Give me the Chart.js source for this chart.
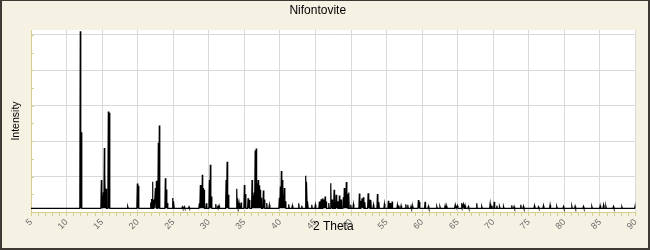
<!DOCTYPE html>
<html>
<head>
<meta charset="utf-8">
<script src="https://cdn.jsdelivr.net/npm/chart.js@4.4.1/dist/chart.umd.min.js"></script>
<style>
  html, body { margin: 0; padding: 0; background: #f5f2e4; }
</style>
</head>
<body>
<canvas id="xrd" width="650" height="250"></canvas>
<script>
// peak positions (2 theta) and relative intensities
const peakAngles = [
  11.93, 12.07, 14.89, 15.03, 15.17, 15.31, 15.40, 15.55, 15.87, 16.01,
  18.60, 19.95, 20.09, 21.83, 21.95, 22.08, 22.26, 22.49, 22.63, 22.90,
  23.04, 23.89, 24.03, 24.17, 24.93, 25.07, 26.28, 26.56, 27.22, 28.67,
  28.81, 28.95, 29.09, 29.20, 29.33, 29.66, 30.08, 30.22, 30.36, 30.98,
  31.26, 31.44, 32.43, 32.57, 32.75, 33.93, 34.07, 34.25, 34.54, 35.00,
  35.14, 35.52, 35.70, 36.08, 36.22, 36.36, 36.52, 36.66, 36.80, 36.94,
  37.08, 37.22, 37.36, 37.67, 37.81, 38.15, 38.52, 39.92, 40.06, 40.20,
  40.34, 40.48, 40.62, 40.77, 41.24, 41.75, 42.65, 43.07, 43.63, 43.77,
  43.91, 44.48, 44.98, 45.55, 45.79, 46.03, 46.21, 46.35, 46.49, 46.87,
  47.15, 47.33, 47.62, 47.90, 48.08, 48.36, 48.60, 48.92, 49.05, 49.20,
  49.33, 49.50, 49.68, 49.96, 50.33, 51.17, 51.37, 51.55, 51.74, 51.93,
  52.40, 52.58, 52.78, 53.15, 53.71, 53.91, 54.69, 55.25, 55.49, 55.77,
  56.52, 56.72, 57.04, 57.70, 57.98, 58.44, 58.68, 59.47, 59.61, 60.41,
  60.88, 62.06, 62.50, 63.23, 63.47, 64.63, 64.73, 64.96, 65.57, 65.80,
  66.04, 66.50, 67.68, 68.38, 69.56, 69.80, 70.13, 70.50, 70.88, 71.44,
  72.60, 72.93, 73.87, 74.24, 75.79, 76.35, 77.05, 77.99, 78.93, 79.87,
  81.05, 81.51, 82.68, 83.86, 85.03, 85.50, 85.83, 86.90, 88.08, 89.95
];
const peakIntensities = [
  100, 43, 16, 7, 9, 34, 19.5, 11, 54.7, 54,
  1, 14, 12.7, 3.2, 5.3, 15, 5, 11.4, 15.5, 37,
  46.8, 17, 10.6, 3, 5.8, 4, 0.8, 0.8, 0.8, 2.8,
  13.2, 13, 19, 11.4, 10.4, 2.8, 16, 24.6, 6.6, 2.4,
  1.5, 1.5, 16, 26.3, 7.6, 11, 5.7, 3, 3.2, 13.2,
  8.1, 5.7, 4.7, 16, 7, 8.9, 32.7, 33.7, 14, 16,
  13, 10.4, 6, 10, 5, 3, 2, 6, 12.3, 21,
  16, 7.6, 11.4, 4, 2.3, 1.5, 2.8, 1.5, 18.4, 15,
  4, 2, 2, 3.8, 5.1, 5.7, 5, 6.6, 3.8, 3,
  14.2, 5, 10.4, 7.6, 4, 7.2, 5, 6.2, 11.4, 9.4,
  14.8, 8, 8.9, 2, 2.3, 8.3, 4.3, 5.7, 6.2, 3.5,
  8.5, 5, 4.7, 2, 8, 3.5, 2.5, 4.3, 3, 3.8,
  2, 1.5, 1.5, 2.3, 2, 1.2, 1.2, 4.7, 3.6, 3.6,
  1.2, 1, 1, 1.5, 1, 1.5, 1.5, 1.5, 3, 2.3,
  1.5, 1, 2.8, 1, 2.6, 1.5, 3.6, 1.5, 1, 1,
  1.7, 1, 2, 1.2, 1.5, 0.8, 1.5, 1.9, 1, 1,
  1.2, 1.2, 1, 1, 1.5, 1.8, 1.3, 1, 0.8, 1.5
];
const tickLabels = [5, 10, 15, 20, 25, 30, 35, 40, 45, 50, 55, 60, 65, 70, 75, 80, 85, 90];

const thetaMin = 5;
const thetaMax = 90;
const yMin = -2.1;
const yMax = 100.7;
const khaki = '#d8cf8e';
const gridGray = '#d9d9d9';
const fontFamily = "'Liberation Sans', Arial, sans-serif";

// turn the peak list into a stick profile on a zero baseline
const profile = [{x: thetaMin, y: 0}];
peakAngles.forEach(function(t, i) {
  const prev = i > 0 ? peakAngles[i - 1] : thetaMin;
  const next = i < peakAngles.length - 1 ? peakAngles[i + 1] : thetaMax;
  const wl = Math.min(0.07, (t - prev) / 2.2);
  const wr = Math.min(0.07, (next - t) / 2.2);
  profile.push({x: t - wl, y: 0}, {x: t, y: peakIntensities[i]}, {x: t + wr, y: 0});
});
profile.push({x: thetaMax, y: 0});

const framePlugin = {
  id: 'frame',
  beforeDraw(chart) {
    const ctx = chart.ctx;
    const a = chart.chartArea;
    ctx.save();
    ctx.fillStyle = '#f5f2e4';
    ctx.fillRect(0, 0, chart.width, chart.height);
    ctx.fillStyle = '#ffffff';
    ctx.fillRect(a.left, a.top, a.right - a.left, a.bottom - a.top);
    ctx.fillStyle = '#3c3a32';
    ctx.fillRect(0, 0, chart.width, 1);
    ctx.fillRect(0, 0, 2, chart.height);
    ctx.fillRect(chart.width - 2, 0, 2, chart.height);
    ctx.fillRect(0, chart.height - 2, chart.width, 2);
    ctx.restore();
  },
  afterDraw(chart) {
    // small inward ticks on the intensity axis
    const ctx = chart.ctx;
    const ys = chart.scales.y;
    const left = Math.round(chart.chartArea.left);
    ctx.save();
    ctx.strokeStyle = khaki;
    ctx.lineWidth = 1;
    ys.ticks.forEach(function(t, i) {
      if (i === 0) return;
      const py = Math.round(ys.getPixelForValue(t.value)) + 0.5;
      ctx.beginPath();
      ctx.moveTo(left, py);
      ctx.lineTo(left + 3, py);
      ctx.stroke();
    });
    ctx.restore();
  }
};

const ctx = document.getElementById('xrd').getContext('2d');
new Chart(ctx, {
  type: 'line',
  data: {
    datasets: [{
      label: 'Nifontovite',
      data: profile,
      borderColor: '#000000',
      borderWidth: 1.2,
      pointRadius: 0,
      tension: 0,
      fill: false
    }]
  },
  options: {
    responsive: false,
    animation: false,
    devicePixelRatio: 1,
    layout: { padding: { left: 0, right: 14.5, top: 0, bottom: 0 } },
    plugins: {
      legend: { display: false },
      tooltip: { enabled: false },
      title: {
        display: true,
        text: 'Nifontovite',
        color: '#000000',
        font: { family: fontFamily, size: 12, weight: 'normal' },
        padding: { top: 3, bottom: 12.6 }
      }
    },
    scales: {
      x: {
        type: 'linear',
        min: thetaMin,
        max: thetaMax,
        afterBuildTicks: function(scale) {
          const t = [];
          for (let v = thetaMin; v <= thetaMax; v++) t.push({ value: v });
          scale.ticks = t;
        },
        afterFit: function(scale) { scale.height = 38; },
        ticks: {
          autoSkip: false,
          minRotation: 45,
          maxRotation: 45,
          padding: 1,
          color: '#6a6a6a',
          font: { family: fontFamily, size: 9 },
          callback: function(v) { return tickLabels.includes(v) ? String(v) : ''; }
        },
        grid: {
          color: function(c) {
            return c.tick && c.tick.value % 5 === 0 && c.tick.value > thetaMin ? gridGray : 'rgba(0,0,0,0)';
          },
          tickColor: khaki,
          tickLength: 4,
          lineWidth: 1
        },
        border: { color: khaki, width: 1 },
        title: {
          display: true,
          text: '2 Theta',
          color: '#000000',
          font: { family: fontFamily, size: 12 },
          padding: { top: 0, bottom: 16 }
        }
      },
      y: {
        min: yMin,
        max: yMax,
        afterBuildTicks: function(scale) {
          const t = [];
          for (let k = 0; yMin + 10 * k <= yMax; k++) t.push({ value: yMin + 10 * k });
          scale.ticks = t;
        },
        afterFit: function(scale) { scale.width = 31; },
        ticks: { display: false },
        grid: {
          drawTicks: false,
          color: function(c) { return c.index > 0 && c.index % 2 === 0 ? gridGray : 'rgba(0,0,0,0)'; }
        },
        border: { color: khaki, width: 1 },
        title: {
          display: true,
          text: 'Intensity',
          color: '#000000',
          font: { family: fontFamily, size: 10.5 },
          padding: { top: 10, bottom: 0 }
        }
      }
    }
  },
  plugins: [framePlugin]
});
</script>
</body>
</html>
